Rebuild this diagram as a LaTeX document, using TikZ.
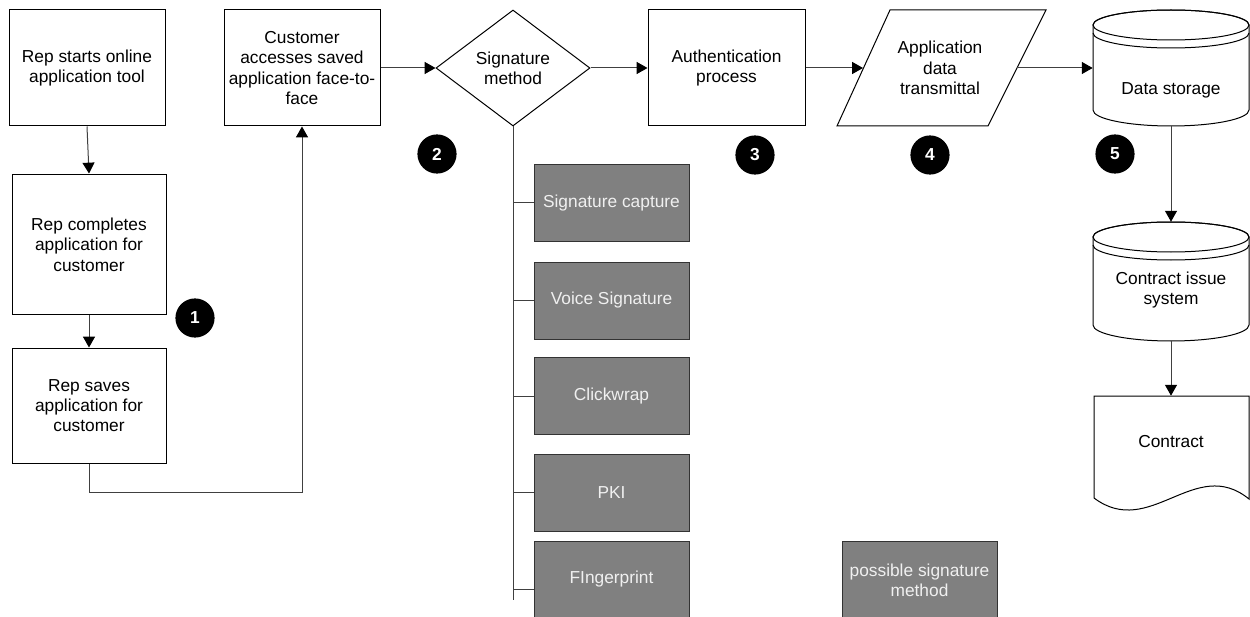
\documentclass[tikz,border=0pt]{standalone}
\usepackage{fontspec}
\setmainfont{Liberation Sans}
\usetikzlibrary{arrows.meta,shapes.geometric}

\tikzset{
  pics/store/.style={code={
    % body with rounded bottom
    \path[proc] (-78,15) -- (-78,#1-16)
      arc[start angle=180,end angle=0,x radius=78,y radius=16]
      -- (78,15)
      arc[start angle=0,end angle=-180,x radius=78,y radius=15] -- cycle;
    % lid and its double rim
    \draw[line width=0.6pt] (0,15) ellipse[x radius=78,y radius=15];
    \draw[line width=0.6pt] (-78,23) arc[start angle=180,end angle=0,x radius=78,y radius=15];
  }}
}

\begin{document}
\begin{tikzpicture}[x=0.6pt,y=-0.6pt,
  every node/.style={font=\fontsize{10.4}{12.2}\selectfont, align=center},
  proc/.style={draw=black, fill=white, line width=0.6pt, inner sep=0pt},
  flow/.style={draw=black!75, line width=0.6pt, -{Triangle[length=6.5pt,width=7.2pt,color=black]}},
  link/.style={draw=black!75, line width=0.6pt},
  option/.style={draw=black!80, fill=black!50, text=black!6, line width=0.6pt,
                 minimum width=93pt, minimum height=46.2pt, inner sep=0pt},
  marker/.style={circle, fill=black, text=white, font=\fontsize{10.4}{12}\selectfont\bfseries,
                 minimum size=23.5pt, inner sep=0pt},
  ghost/.style={inner sep=0pt, minimum width=93.6pt, minimum height=69.6pt}
]
\useasboundingbox (0,0) rectangle (1250,617);

% left column: the rep's steps
\node[proc, minimum width=93.6pt, minimum height=69.6pt] (start) at (87,68) {Rep starts online\\application tool};
\node[proc, minimum width=92.4pt, minimum height=84.6pt] (complete) at (89,244.5) {Rep completes\\application for\\customer};
\node[proc, minimum width=92.4pt, minimum height=69pt] (save) at (89,405.5) {Rep saves\\application for\\customer};
\node[proc, minimum width=93.6pt, minimum height=69.6pt] (access) at (302,68) {Customer\\accesses saved\\application face-to-\\face};

% decision and processing chain
\node[proc, diamond, minimum width=92.4pt, minimum height=69.6pt] (sig) at (513,68) {Signature\\method};
\node[proc, minimum width=94.2pt, minimum height=69.6pt] (auth) at (726.5,68) {Authentication\\process};

\draw[proc] (890,10) -- (1046,10) -- (988,126) -- (837,126) -- cycle;
\node (xmit) at (940,68) {Application\\data\\transmittal};
\coordinate (xmitL) at (863,68);
\coordinate (xmitR) at (1017,68);

% storage, contract system and output document
\pic at (1171,10) {store=116};
\node[ghost] (ds) at (1171,68) {};
\node (dslabel) at (1171,90) {Data storage};

\pic at (1171,222) {store=119};
\node[ghost, minimum height=71.4pt] (cis) at (1171,281.5) {};
\node (cislabel) at (1171,290) {Contract issue\\system};

\path[proc] (1094,396) -- (1249,396) -- (1249,499)
  .. controls (1195,455) and (1150,540) .. (1094,498) -- cycle;
\node[ghost] (doc) at (1171,454) {};
\node (doclabel) at (1171,442) {Contract};

% signature options
\node[option] (capture) at (611.5,203) {Signature capture};
\node[option] (voice)   at (611.5,300.5) {Voice Signature};
\node[option] (click)   at (611.5,396) {Clickwrap};
\node[option] (pki)     at (611.5,492.5) {PKI};
\node[option] (finger)  at (611.5,579.5) {FIngerprint};
\node[option] (legend)  at (919.5,580) {possible signature\\method};

% numbered markers
\node[marker] (m1) at (195,318) {1};
\node[marker] (m2) at (437,154) {2};
\node[marker] (m3) at (755,155) {3};
\node[marker] (m4) at (930,155) {4};
\node[marker] (m5) at (1115,154) {5};

% connectors
\draw[flow] (start.south) -- (complete.north);
\draw[flow] (complete.south) -- (save.north);
\draw[flow] (save.south) -- ++(0,29) -| (access.south);
\draw[flow] (access.east) -- (sig.west);
\draw[flow] (sig.east) -- (auth.west);
\draw[flow] (auth.east) -- (xmitL);
\draw[flow] (xmitR) -- (ds.west);
\draw[flow] (ds.south) -- (cis.north);
\draw[flow] (cis.south) -- (doc.north);

\coordinate (trunk) at (513,600);
\draw[link] (sig.south) -- (trunk);
\draw[link] (capture.west) -- (capture.west -| trunk);
\draw[link] (voice.west) -- (voice.west -| trunk);
\draw[link] (click.west) -- (click.west -| trunk);
\draw[link] (pki.west) -- (pki.west -| trunk);
\draw[link] ([yshift=-6pt]finger.west) -- ([yshift=-6pt]finger.west -| trunk);
\end{tikzpicture}
\end{document}
